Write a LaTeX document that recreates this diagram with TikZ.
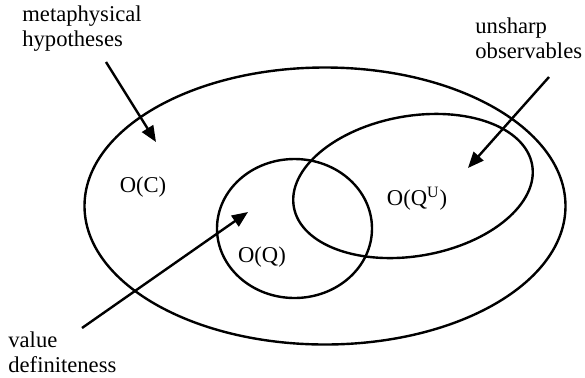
\documentclass[tikz,border=0pt]{standalone}
\usepackage{fontspec}
\setmainfont{Liberation Serif}
\usepackage{tikz}
\usetikzlibrary{arrows.meta,positioning,shapes.geometric}

\begin{document}
\begin{tikzpicture}[x=0.5pt, y=-0.5pt,
    set/.style={draw, ellipse, line width=1.2pt, inner sep=0pt},
    lbl/.style={inner sep=0pt, font=\fontsize{11.3}{12.5}\selectfont},
    note/.style={lbl, align=left, anchor=north west},
    pointer/.style={line width=1.2pt, -{Triangle[length=8pt, width=6.5pt]}}]
  \useasboundingbox (0,0) rectangle (585,377);

  % the three sets of observables
  \node[set, minimum width=240.5pt, minimum height=138.5pt] (classical) at (325,206) {};
  \node[set, minimum width=77.5pt, minimum height=69.5pt] (quantum) at (294.5,228.5) {};
  \node[set, minimum width=121pt, minimum height=70pt, rotate=10] (unsharp) at (413,186) {};

  \node[lbl] (oc) at (143,187) {O(C)};
  \node[lbl] (oq) at (262,257) {O(Q)};
  \node[lbl] (oqu) at (417,199) {O(Q\textsuperscript{U})};

  % outside comments
  \node[note] (meta) at (22,5) {metaphysical\\hypotheses};
  \node[note] (sharp) at (475,17) {unsharp\\observables};
  \node[note] (value) at (8,331) {value\\definiteness};

  \coordinate (meta-from) at (106,62);
  \coordinate (meta-to) at (156,142);
  \coordinate (sharp-from) at (549,77);
  \coordinate (sharp-to) at (468,168);
  \coordinate (value-from) at (82,328);
  \coordinate (value-to) at (248,212);

  \draw[pointer] (meta-from) -- (meta-to);
  \draw[pointer] (sharp-from) -- (sharp-to);
  \draw[pointer] (value-from) -- (value-to);
\end{tikzpicture}
\end{document}
